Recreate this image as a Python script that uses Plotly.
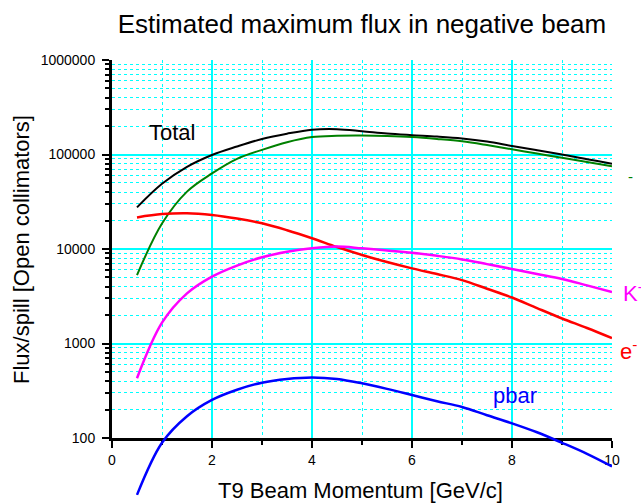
import plotly.graph_objects as go

# ---------------- data ----------------
momentum = [0.5, 1.0, 1.5, 2.0, 2.5, 3.0, 3.5, 4.0, 4.5, 5.0,
            5.5, 6.0, 6.5, 7.0, 7.5, 8.0, 8.5, 9.0, 9.5, 10.0]

flux_total = [27600, 49000, 74100, 98900, 121600, 146000, 166000, 182800, 185400, 176600,
              166700, 160300, 154900, 147900, 137100, 123000, 111000, 100000, 89100, 80000]
flux_pim = [5300, 18600, 40500, 63100, 90000, 112000, 135000, 153100, 157800, 158500,
            157000, 153100, 146200, 138000, 125900, 113500, 102300, 92300, 83200, 75000]
flux_el = [21600, 23400, 23900, 22900, 21000, 18700, 15800, 13000, 10500, 8650,
           7280, 6240, 5430, 4680, 3800, 3070, 2370, 1840, 1460, 1140]
flux_k = [429, 1660, 3390, 5100, 6680, 8170, 9330, 10160, 10600, 10160,
          9660, 9140, 8470, 7760, 6920, 6140, 5430, 4820, 4120, 3510]
flux_pbar = [25, 89, 170, 253, 324, 385, 422, 438, 422, 379,
             331, 285, 245, 213, 174, 143, 115, 89, 68, 50]

y_tickvals = [100, 1000, 10000, 100000, 1000000]
y_ticktext = ["100", "1000", "10000", "100000", "1000000"]

title_text = "Estimated maximum flux in negative beam"
x_title = "T9 Beam Momentum [GeV/c]"
y_title = "Flux/spill [Open collimators]"

# ---------------- figure ----------------
W, H = 641, 504
ML, MR, MT, MB = 112, 29, 60, 4
plot_h = H - MT - MB            # 440
axis_px = 438                   # pixel row of the x axis
main_bottom = (H - MB - axis_px) / plot_h
decade_px = (axis_px - MT) / 4.0
y2_low = 2 - (H - MB - axis_px) / decade_px

FONT = "Arial, Liberation Sans, sans-serif"
CYAN = "#00FFFF"

fig = go.Figure()
line_kw = dict(mode="lines", line_shape="spline", hoverinfo="skip", showlegend=False)
fig.add_trace(go.Scatter(x=momentum, y=flux_total, line=dict(color="black", width=2), **line_kw))
fig.add_trace(go.Scatter(x=momentum, y=flux_pim, line=dict(color="#008000", width=2), **line_kw))
fig.add_trace(go.Scatter(x=momentum, y=flux_el, line=dict(color="#FF0000", width=2.5), **line_kw))
fig.add_trace(go.Scatter(x=momentum, y=flux_k, line=dict(color="#FF00FF", width=2.5), **line_kw))
fig.add_trace(go.Scatter(x=momentum, y=flux_pbar, xaxis="x2", yaxis="y2",
                         line=dict(color="#0000FF", width=2.5), **line_kw))

fig.update_layout(
    width=W, height=H,
    margin=dict(l=ML, r=MR, t=MT, b=MB, autoexpand=False),
    paper_bgcolor="white", plot_bgcolor="rgba(0,0,0,0)",
    font=dict(family=FONT, color="black", size=14),
    title=dict(text=title_text, x=0.5, xref="paper", xanchor="center",
               y=1 - 24 / H, yref="container", yanchor="middle",
               font=dict(size=26, family=FONT, color="black")),
    xaxis=dict(
        domain=[0, 1], range=[0, 10], anchor="y", automargin=False,
        tickmode="linear", tick0=0, dtick=2,
        showline=True, linecolor="black", linewidth=3,
        ticks="outside", ticklen=7, tickwidth=2, tickcolor="black",
        tickfont=dict(size=14),
        showgrid=True, gridcolor=CYAN, gridwidth=1.5, zeroline=False,
        minor=dict(dtick=1, tick0=0, ticks="outside", ticklen=4, tickwidth=2,
                   tickcolor="black", showgrid=True, gridcolor=CYAN,
                   gridwidth=1, griddash="dot"),
    ),
    yaxis=dict(
        domain=[main_bottom, 1], type="log", range=[2, 6], anchor="x", automargin=False,
        tickmode="array", tickvals=y_tickvals, ticktext=y_ticktext,
        showline=True, linecolor="black", linewidth=3,
        ticks="outside", ticklen=7, tickwidth=2, tickcolor="black",
        tickfont=dict(size=14), ticklabelstandoff=4,
        showgrid=True, gridcolor=CYAN, gridwidth=1.5, zeroline=False,
        minor=dict(dtick="D1", ticks="outside", ticklen=4, tickwidth=2,
                   tickcolor="black", showgrid=True, gridcolor=CYAN,
                   gridwidth=1, griddash="dot"),
    ),
    xaxis2=dict(domain=[0, 1], range=[0, 10], anchor="y2", visible=False,
                showgrid=False, zeroline=False, automargin=False),
    yaxis2=dict(domain=[0, 1], type="log", range=[y2_low, 6], anchor="x2",
                visible=False, showgrid=False, zeroline=False, automargin=False),
)

def px_x(p):
    return (p - ML) / (W - ML - MR)

def px_y(p):
    return (H - MB - p) / plot_h

ann = [
    dict(text=x_title, x=px_x(360), y=px_y(490), size=22, color="black", xanchor="center", angle=0),
    dict(text=y_title, x=px_x(22), y=px_y(250), size=22, color="black", xanchor="center", angle=-90),
    dict(text="Total", x=px_x(172), y=px_y(132), size=22, color="black", xanchor="center", angle=0),
    dict(text="pbar", x=px_x(515), y=px_y(395), size=22, color="#0000FF", xanchor="center", angle=0),
    dict(text="K<sup>-</sup>", x=px_x(621), y=px_y(292), size=22, color="#FF00FF", xanchor="left", angle=0),
    dict(text="e<sup>-</sup>", x=px_x(618), y=px_y(350), size=22, color="#FF0000", xanchor="left", angle=0),
    dict(text="-", x=px_x(630), y=px_y(176), size=15, color="#008000", xanchor="center", angle=0),
]
for a in ann:
    fig.add_annotation(text=a["text"], x=a["x"], y=a["y"], xref="paper", yref="paper",
                       xanchor=a["xanchor"], yanchor="middle", showarrow=False,
                       textangle=a["angle"], font=dict(size=a["size"], color=a["color"], family=FONT))

fig.write_html("out.html")
